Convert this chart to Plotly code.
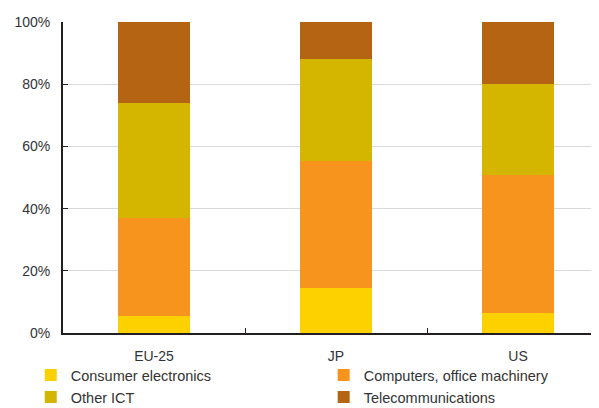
import plotly.graph_objects as go

regions = ["EU-25", "JP", "US"]
consumer_electronics = [5.5, 14.6, 6.5]
computers_office = [31.6, 40.7, 44.3]
other_ict = [36.9, 32.8, 29.2]
telecommunications = [26.0, 11.9, 20.0]

# name, values, colour, which legend column
series = [
    ("Consumer electronics", consumer_electronics, "#FDD000", "legend"),
    ("Computers, office machinery", computers_office, "#F7941E", "legend2"),
    ("Other ICT", other_ict, "#D4B500", "legend"),
    ("Telecommunications", telecommunications, "#B56414", "legend2"),
]

fig = go.Figure()
for name, vals, col, leg in series:
    fig.add_trace(go.Bar(x=regions, y=vals, name=name, legend=leg,
                         marker=dict(color=col, line=dict(width=0))))

leg_font = dict(family="Liberation Sans, Arial, sans-serif", size=14.5, color="#333333")
fig.update_layout(
    barmode="stack",
    bargap=0.6,
    width=599, height=408,
    margin=dict(l=55, r=8, t=14, b=83, autoexpand=False),
    paper_bgcolor="white", plot_bgcolor="white",
    font=dict(family="Liberation Sans, Arial, sans-serif", size=14, color="#333333"),
    legend=dict(orientation="v", traceorder="normal", xref="container", yref="container",
                x=0.038, y=0.007, xanchor="left", yanchor="bottom", bgcolor="rgba(0,0,0,0)",
                itemwidth=30, font=leg_font, tracegroupgap=0),
    legend2=dict(orientation="v", traceorder="normal", xref="container", yref="container",
                 x=0.527, y=0.007, xanchor="left", yanchor="bottom", bgcolor="rgba(0,0,0,0)",
                 itemwidth=30, font=leg_font, tracegroupgap=0),
)
fig.update_xaxes(range=[-0.5, 2.445], showline=True, linecolor="#231f20", linewidth=2,
                 ticks="inside", tickson="boundaries", ticklen=5, tickcolor="#231f20",
                 showgrid=False, ticklabelstandoff=9)
fig.update_yaxes(range=[0, 100], dtick=20, ticksuffix="%", showline=True, linecolor="#231f20",
                 linewidth=2, ticks="inside", ticklen=5, tickcolor="#231f20",
                 gridcolor="#d9d9d9", gridwidth=1, zeroline=False, ticklabelstandoff=8)

fig.write_html("out.html")
